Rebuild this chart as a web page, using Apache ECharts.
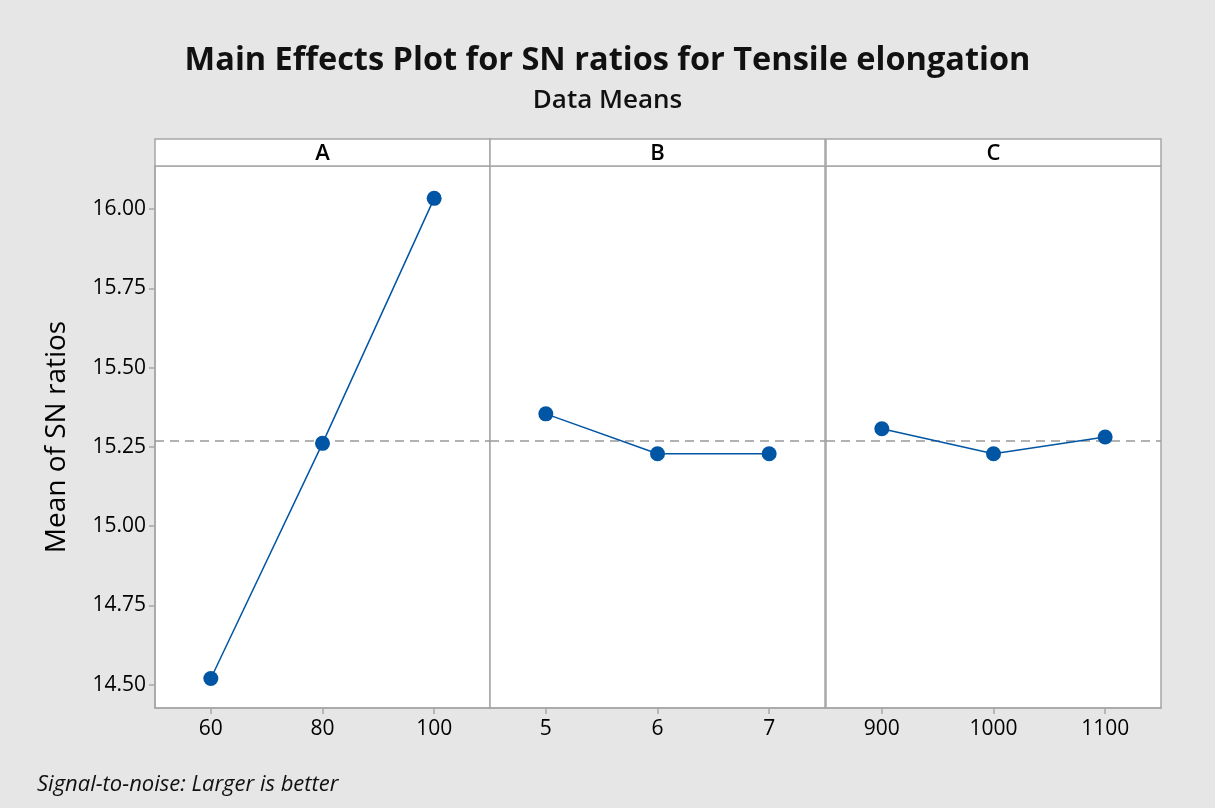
<!DOCTYPE html>
<html>
<head>
<meta charset="utf-8">
<script src="https://cdn.jsdelivr.net/npm/echarts@6/dist/echarts.min.js"></script>
<style>
html,body{margin:0;padding:0;background:#e6e6e6;}
#chart{width:1215px;height:808px;}
</style>
</head>
<body>
<div id="chart"></div>
<script>
const factors = ['A', 'B', 'C'];
const levelsA = ['60', '80', '100'];
const levelsB = ['5', '6', '7'];
const levelsC = ['900', '1000', '1100'];
const meansA = [14.519, 15.261, 16.034];
const meansB = [15.354, 15.228, 15.228];
const meansC = [15.307, 15.228, 15.281];
const overallMean = 15.27;
const yTicks = [14.50, 14.75, 15.00, 15.25, 15.50, 15.75, 16.00];

const levels = [levelsA, levelsB, levelsC];
const means = [meansA, meansB, meansC];

const FONT = 'Open Sans';
const gridLeft = [155, 490, 826];
const gridW = 335;
const gridTop = 166;
const gridH = 542;
const headerTop = 139;
const blue = '#0055a5';
const borderC = '#a6a6a6';

const grids = [], xAxes = [], yAxes = [], series = [], graphics = [];
for (let i = 0; i < 3; i++) {
  grids.push({left: gridLeft[i], top: gridTop, width: gridW, height: gridH,
    show: true, backgroundColor: '#fff', borderColor: borderC, borderWidth: 1.5});
  xAxes.push({type: 'category', gridIndex: i, data: levels[i], boundaryGap: true,
    axisLine: {show: true, lineStyle: {color: borderC, width: 1.5}},
    axisTick: {show: true, alignWithLabel: true, length: 6, lineStyle: {color: borderC, width: 1.5}},
    axisLabel: {color: '#000', fontFamily: FONT, fontSize: 21, fontWeight: 500, margin: 11},
    splitLine: {show: false}});
  yAxes.push({type: 'value', gridIndex: i, min: 14.426, max: 16.136,
    axisLine: {show: i === 0, lineStyle: {color: borderC, width: 1.5}},
    axisTick: {show: i === 0, length: 6, customValues: yTicks, lineStyle: {color: borderC, width: 1.5}},
    axisLabel: {show: i === 0, customValues: yTicks, color: '#000', fontFamily: FONT, fontSize: 21, fontWeight: 500, margin: 9,
      formatter: v => v.toFixed(2)},
    splitLine: {show: false},
    name: i === 0 ? 'Mean of SN ratios' : '', nameLocation: 'middle', nameGap: 84, nameRotate: 90,
    nameTextStyle: {color: '#000', fontFamily: FONT, fontSize: 28, fontWeight: 500}});
  series.push({type: 'line', xAxisIndex: i, yAxisIndex: i, data: means[i],
    symbol: 'circle', symbolSize: 15, itemStyle: {color: blue},
    lineStyle: {color: blue, width: 1.5}, z: 5,
    markLine: {silent: true, symbol: 'none', label: {show: false},
      lineStyle: {color: '#999', type: [9, 6], width: 1.5},
      data: [{yAxis: overallMean}]}});
  graphics.push({type: 'rect', shape: {x: gridLeft[i], y: headerTop, width: gridW, height: gridTop - headerTop},
    style: {fill: '#fff', stroke: borderC, lineWidth: 1.5}});
  graphics.push({type: 'text', x: gridLeft[i] + gridW / 2, y: headerTop + (gridTop - headerTop) / 2 + 1,
    style: {text: factors[i], font: '600 22px "' + FONT + '"', fill: '#000', align: 'center', verticalAlign: 'middle'}});
}

const chart = echarts.init(document.getElementById('chart'));
chart.setOption({
  backgroundColor: '#e6e6e6',
  animation: false,
  title: [
    {text: 'Main Effects Plot for SN ratios for Tensile elongation', left: 'center', top: 39,
      textStyle: {fontFamily: FONT, fontSize: 32.5, fontWeight: 'bold', color: '#111'}},
    {text: 'Data Means', left: 'center', top: 83,
      textStyle: {fontFamily: FONT, fontSize: 26, fontWeight: 600, color: '#111'}},
    {text: 'Signal-to-noise: Larger is better', left: 32, top: 769,
      textStyle: {fontFamily: FONT, fontSize: 22, fontStyle: 'italic', fontWeight: 'normal', color: '#111'}}
  ],
  grid: grids, xAxis: xAxes, yAxis: yAxes, series: series, graphic: graphics
});
</script>
</body>
</html>
